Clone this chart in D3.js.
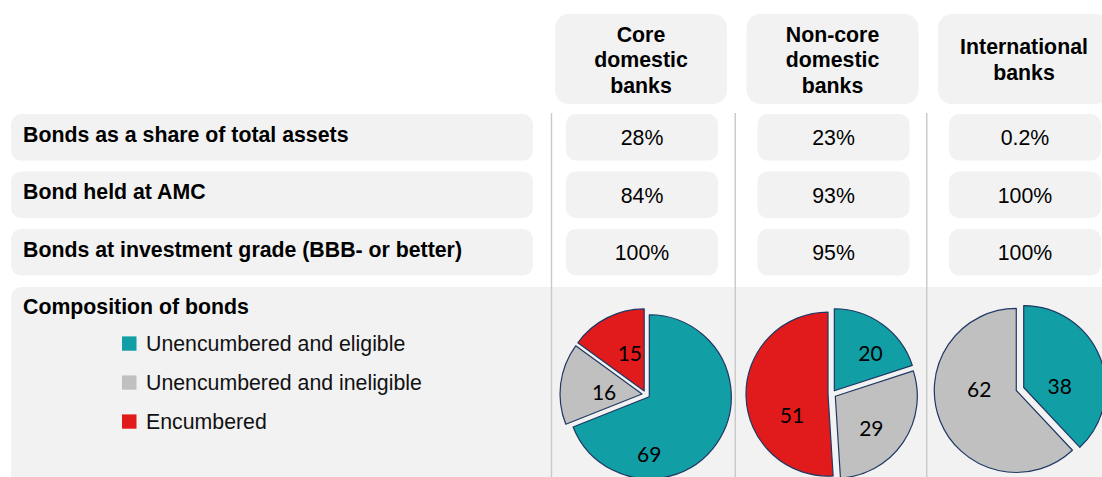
<!DOCTYPE html>
<html>
<head>
<meta charset="utf-8">
<script src="https://cdn.jsdelivr.net/npm/d3@7"></script>
<style>
  html, body { margin: 0; padding: 0; background: #fff; }
  svg { display: block; }
</style>
</head>
<body>
<svg id="chart" width="1102" height="477"></svg>
<script>
// ---- data ----
const banks = ["Core domestic banks", "Non-core domestic banks", "International banks"];
const bankHeaderLines = [["Core", "domestic", "banks"], ["Non-core", "domestic", "banks"], ["International", "banks"]];
const metrics = ["Bonds as a share of total assets", "Bond held at AMC", "Bonds at investment grade (BBB- or better)"];
const bondsShareOfAssets = [28, 23, 0.2];
const bondsHeldAtAmc = [84, 93, 100];
const bondsInvestmentGrade = [100, 95, 100];
const compositionCategories = ["Unencumbered and eligible", "Unencumbered and ineligible", "Encumbered"];
const coreComposition = [69, 16, 15];
const nonCoreComposition = [20, 29, 51];
const internationalComposition = [38, 62, 0];

// ---- styling / layout ----
const W = 1102, H = 477;
const panelFill = "#f2f2f2";
const sansFont = "'Liberation Sans', Arial, Helvetica, sans-serif";
const pieFont = "Lato, 'Open Sans', sans-serif";
const fontSize = 21.3;
const categoryColors = ["#119ea5", "#c0c0c0", "#e11b1b"];
const sliceStroke = "#1f3864";

const metricValues = [bondsShareOfAssets, bondsHeldAtAmc, bondsInvestmentGrade];
const compositions = [coreComposition, nonCoreComposition, internationalComposition];

const svg = d3.select("#chart");

// column centres for the three bank groups
const colX = d3.scalePoint().domain(banks).range([641, 1024]);
// rows of the metric table
const rowY = d3.scaleBand().domain(metrics).range([114, 275.5]).paddingInner(0.191);
// legend rows
const legendY = d3.scalePoint().domain(compositionCategories).range([350.7, 428.7]);
const color = d3.scaleOrdinal().domain(compositionCategories).range(categoryColors);

// ---- composition panel background ----
svg.append("rect")
  .attr("x", 11).attr("y", 287)
  .attr("width", 1200).attr("height", 300)
  .attr("rx", 10)
  .attr("fill", panelFill);

// ---- column separators ----
const centres = banks.map(b => colX(b));
const sepX = centres.map((c, i) => i === 0 ? c - 89.5 : (centres[i - 1] + c) / 2 - 1.5);
svg.append("g").selectAll("line")
  .data(sepX)
  .join("line")
  .attr("x1", d => d).attr("x2", d => d)
  .attr("y1", 113).attr("y2", H)
  .attr("stroke", "#c9c9c9")
  .attr("stroke-width", 1.4);

// ---- column headers ----
const headers = svg.append("g").selectAll("g")
  .data(banks)
  .join("g")
  .attr("transform", b => `translate(${colX(b)},0)`);

headers.append("rect")
  .attr("x", -86).attr("y", 14)
  .attr("width", 172).attr("height", 90)
  .attr("rx", 14)
  .attr("fill", panelFill);

headers.each(function(b, i) {
  const lines = bankHeaderLines[i];
  const n = lines.length;
  d3.select(this).selectAll("text")
    .data(lines)
    .join("text")
    .attr("x", 0)
    .attr("y", (d, k) => 59 + 8 + (k - (n - 1) / 2) * 25.5)
    .attr("text-anchor", "middle")
    .attr("font-family", sansFont)
    .attr("font-weight", "bold")
    .attr("font-size", fontSize)
    .attr("fill", "#000")
    .text(d => d);
});

// ---- metric rows ----
const rows = svg.append("g").selectAll("g")
  .data(metrics)
  .join("g")
  .attr("transform", m => `translate(0,${rowY(m)})`);

rows.append("rect")
  .attr("x", 11).attr("y", 0)
  .attr("width", 522).attr("height", rowY.bandwidth())
  .attr("rx", 10)
  .attr("fill", panelFill);

rows.append("text")
  .attr("x", 23)
  .attr("y", rowY.bandwidth() / 2 + 4.5)
  .attr("font-family", sansFont)
  .attr("font-weight", "bold")
  .attr("font-size", fontSize)
  .attr("fill", "#000")
  .text(m => m);

rows.each(function(m, r) {
  const cells = d3.select(this).selectAll("g.cell")
    .data(banks.map((b, i) => ({ bank: b, value: metricValues[r][i] })))
    .join("g")
    .attr("class", "cell")
    .attr("transform", d => `translate(${colX(d.bank) + 1},0)`);
  cells.append("rect")
    .attr("x", -76).attr("y", 0)
    .attr("width", 152).attr("height", rowY.bandwidth())
    .attr("rx", 10)
    .attr("fill", panelFill);
  cells.append("text")
    .attr("x", 0)
    .attr("y", rowY.bandwidth() / 2 + 8)
    .attr("text-anchor", "middle")
    .attr("font-family", sansFont)
    .attr("font-size", fontSize)
    .attr("fill", "#000")
    .text(d => d.value + "%");
});

// ---- composition title and legend ----
svg.append("text")
  .attr("x", 23).attr("y", 314.3)
  .attr("font-family", sansFont)
  .attr("font-weight", "bold")
  .attr("font-size", fontSize)
  .attr("fill", "#000")
  .text("Composition of bonds");

const legend = svg.append("g").selectAll("g")
  .data(compositionCategories)
  .join("g")
  .attr("transform", c => `translate(122,${legendY(c)})`);
legend.append("rect")
  .attr("x", 0).attr("y", -14.3)
  .attr("width", 14.5).attr("height", 14.3)
  .attr("fill", c => color(c));
legend.append("text")
  .attr("x", 24).attr("y", 0)
  .attr("font-family", sansFont)
  .attr("font-size", fontSize)
  .attr("fill", "#111")
  .text(c => c);

// ---- composition pies ----
const radius = 82;
const explode = 4;
const pieCentreDx = [5, -0.5, -4];
const pieCentreY = [394.5, 394, 389];
// label placement per slice: angle (deg, clockwise from 12 o'clock) and distance from slice tip
const labelPolar = [
  [[180, 58], [272.6, 38], [339, 40]],
  [[44, 52], [131.4, 48], [239, 42]],
  [[89, 36], [271.5, 37], [0, 0]]
];

const pie = d3.pie().sort(null).value(d => d.value).startAngle(0).endAngle(2 * Math.PI);
const arc = d3.arc().innerRadius(0).outerRadius(radius);

banks.forEach((b, i) => {
  const slices = pie(compositionCategories.map((c, k) => ({ category: c, index: k, value: compositions[i][k] })))
    .filter(s => s.data.value > 0);
  const g = svg.append("g")
    .attr("transform", `translate(${colX(b) + pieCentreDx[i]},${pieCentreY[i]})`);

  const sg = g.selectAll("g.slice")
    .data(slices)
    .join("g")
    .attr("class", "slice")
    .attr("transform", s => {
      const mid = (s.startAngle + s.endAngle) / 2;
      return `translate(${Math.sin(mid) * explode},${-Math.cos(mid) * explode})`;
    });

  sg.append("path")
    .attr("d", arc)
    .attr("fill", s => color(s.data.category))
    .attr("stroke", sliceStroke)
    .attr("stroke-width", 1.2)
    .attr("stroke-linejoin", "round");

  sg.append("text")
    .attr("transform", s => {
      const [deg, dist] = labelPolar[i][s.data.index];
      const a = deg * Math.PI / 180;
      return `translate(${Math.sin(a) * dist},${-Math.cos(a) * dist})`;
    })
    .attr("dy", "0.36em")
    .attr("text-anchor", "middle")
    .attr("font-family", pieFont)
    .attr("font-size", 21)
    .attr("fill", "#000")
    .text(s => s.data.value);
});
</script>
</body>
</html>
